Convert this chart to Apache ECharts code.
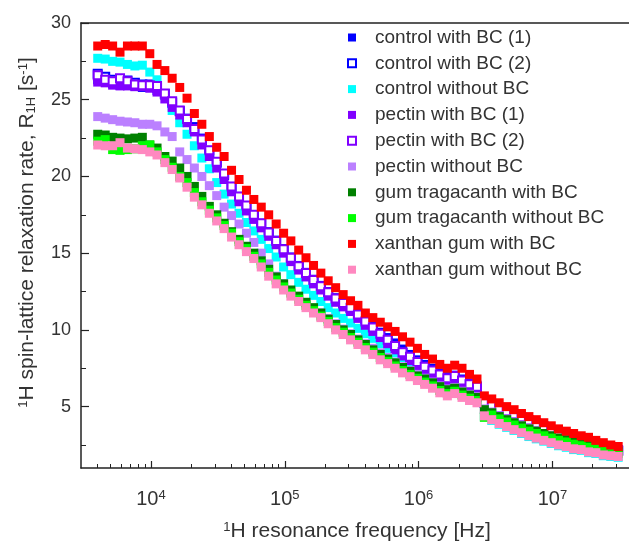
<!DOCTYPE html>
<html>
<head>
<meta charset="utf-8">
<script src="https://cdn.jsdelivr.net/npm/echarts@6/dist/echarts.min.js"></script>
<style>
  html, body { margin: 0; padding: 0; background: #fff; }
  #chart { width: 629px; height: 543px; }
</style>
</head>
<body>
<div id="chart"></div>
<script>
// resonance frequencies [Hz]
const freq = [4000, 4550, 5170, 5870, 6670, 7580, 8620, 9800,
  11100, 12700, 14400, 16400, 18600, 21100, 24000, 27300, 31000, 35200, 40000,
  45500, 51700, 58700, 66700, 75800, 86200, 98000,
  111000, 127000, 144000, 164000, 186000, 211000, 240000, 273000, 310000, 352000, 400000,
  455000, 517000, 587000, 667000, 758000, 862000, 980000,
  1110000, 1270000, 1440000, 1640000, 1860000, 2110000, 2400000, 2730000, 3100000, 3520000, 4000000,
  4550000, 5170000, 5870000, 6670000, 7580000, 8620000, 9800000,
  11100000, 12700000, 14400000, 16400000, 18600000, 21100000, 24000000, 27300000, 31000000];

// R1H [1/s]
const controlBC1 = [26.3, 26.2, 26.05, 25.95, 25.95, 25.9, 25.8, 25.8,
  25.6, 25.3, 24.8, 24.3, 23.8, 23.25, 22.5, 21.7, 20.95, 20.15, 19.35,
  18.7, 18.1, 17.5, 16.95, 16.4, 15.85, 15.3,
  14.75, 14.2, 13.75, 13.3, 12.9, 12.5, 12.1, 11.8, 11.5, 11.1, 10.65,
  10.25, 9.85, 9.5, 9.15, 8.75, 8.4, 8.05,
  7.75, 7.5, 7.2, 6.95, 7.05, 6.8, 6.55, 6.4, 5.35, 5.15, 4.95,
  4.75, 4.55, 4.35, 4.15, 3.95, 3.75, 3.5,
  3.3, 3.15, 3.0, 2.85, 2.7, 2.55, 2.4, 2.3, 2.2];
const controlBC2 = [26.7, 26.5, 26.3, 26.3, 26.25, 26.1, 26.0, 26.0,
  25.8, 25.35, 24.8, 24.25, 23.7, 23.0, 22.35, 21.6, 20.9, 20.1, 19.3,
  18.65, 18.05, 17.45, 16.9, 16.3, 15.75, 15.2,
  14.65, 14.1, 13.65, 13.2, 12.8, 12.4, 12.0, 11.7, 11.4, 10.95, 10.5,
  10.1, 9.7, 9.3, 8.9, 8.5, 8.2, 7.85,
  7.55, 7.3, 7.05, 6.8, 6.95, 6.65, 6.4, 6.25, 5.25, 5.05, 4.85,
  4.65, 4.45, 4.25, 4.05, 3.85, 3.65, 3.4,
  3.2, 3.05, 2.9, 2.75, 2.6, 2.45, 2.35, 2.2, 2.1];
const controlNoBC = [27.7, 27.65, 27.5, 27.45, 27.3, 27.2, 27.25, 26.8,
  26.3, 25.3, 24.3, 23.5, 22.75, 22.0, 21.2, 20.5, 19.6, 18.85, 18.2,
  17.6, 17.0, 16.45, 15.9, 15.3, 14.75, 14.1,
  13.6, 13.1, 12.65, 12.25, 11.85, 11.45, 11.1, 10.75, 10.45, 10.1, 9.75,
  9.45, 9.1, 8.8, 8.5, 8.2, 7.9, 7.6,
  7.35, 7.1, 6.8, 6.55, 6.6, 6.35, 6.1, 5.95, 4.35, 4.1, 3.85,
  3.65, 3.45, 3.25, 3.05, 2.9, 2.75, 2.6,
  2.45, 2.35, 2.2, 2.15, 2.0, 1.95, 1.8, 1.75, 1.7];
const pectinBC1 = [26.15, 26.1, 25.95, 25.9, 25.9, 25.85, 25.85, 25.75,
  25.5, 25.05, 24.5, 24.0, 23.5, 22.9, 22.05, 21.3, 20.55, 19.8, 19.0,
  18.35, 17.75, 17.2, 16.65, 16.1, 15.55, 15.0,
  14.45, 13.9, 13.45, 13.0, 12.6, 12.2, 11.8, 11.5, 11.2, 10.75, 10.3,
  9.9, 9.5, 9.1, 8.7, 8.3, 8.0, 7.65,
  7.4, 7.15, 6.9, 6.6, 6.75, 6.4, 6.2, 6.05, 5.2, 5.05, 4.85,
  4.6, 4.4, 4.2, 4.0, 3.8, 3.6, 3.35,
  3.15, 3.0, 2.85, 2.7, 2.55, 2.45, 2.35, 2.2, 2.1];
const pectinBC2 = [26.6, 26.3, 26.2, 26.4, 26.2, 26.0, 25.95, 25.95,
  25.9, 25.4, 24.9, 24.3, 23.75, 23.1, 22.4, 21.7, 20.95, 20.2, 19.35,
  18.7, 18.1, 17.5, 16.95, 16.35, 15.8, 15.25,
  14.7, 14.15, 13.7, 13.25, 12.85, 12.45, 12.05, 11.75, 11.45, 11.0, 10.55,
  10.15, 9.75, 9.35, 8.95, 8.55, 8.25, 7.9,
  7.6, 7.35, 7.1, 6.85, 7.0, 6.7, 6.45, 6.3, 5.3, 5.1, 4.9,
  4.7, 4.5, 4.3, 4.1, 3.9, 3.7, 3.45,
  3.25, 3.1, 2.95, 2.8, 2.65, 2.5, 2.4, 2.25, 2.15];
const pectinNoBC = [23.9, 23.8, 23.7, 23.6, 23.55, 23.5, 23.4, 23.4,
  23.3, 22.9, 22.6, 21.6, 21.1, 20.55, 20.0, 19.4, 18.75, 18.0, 17.45,
  16.9, 16.3, 15.7, 15.0, 14.3, 13.5, 13.0,
  12.55, 12.15, 11.75, 11.4, 11.1, 10.75, 10.4, 10.05, 9.75, 9.4, 9.1,
  8.8, 8.5, 8.2, 7.9, 7.6, 7.35, 7.1,
  6.85, 6.6, 6.35, 6.15, 6.25, 6.0, 5.8, 5.65, 4.85, 4.65, 4.4,
  4.2, 4.0, 3.8, 3.6, 3.45, 3.25, 3.1,
  2.95, 2.8, 2.7, 2.6, 2.5, 2.4, 2.3, 2.2, 2.1];
const gumBC = [22.75, 22.7, 22.55, 22.5, 22.45, 22.5, 22.55, 22.05,
  21.85, 21.3, 21.0, 20.55, 20.0, 19.35, 18.7, 18.05, 17.5, 16.95, 16.4,
  15.9, 15.45, 15.0, 14.5, 13.95, 13.45, 13.0,
  12.6, 12.2, 11.8, 11.45, 11.1, 10.7, 10.35, 10.0, 9.7, 9.35, 9.05,
  8.7, 8.4, 8.1, 7.85, 7.55, 7.3, 7.0,
  6.8, 6.55, 6.3, 6.1, 6.2, 5.95, 5.75, 5.6, 4.8, 4.6, 4.35,
  4.15, 3.95, 3.75, 3.55, 3.4, 3.25, 3.1,
  2.95, 2.85, 2.7, 2.6, 2.5, 2.4, 2.3, 2.2, 2.1];
const gumNoBC = [22.3, 22.4, 21.75, 21.7, 21.75, 21.8, 22.0, 22.05,
  21.6, 21.1, 20.6, 20.0, 19.6, 18.95, 18.35, 17.8, 17.3, 16.8, 16.3,
  15.75, 15.3, 14.8, 14.3, 13.75, 13.25, 12.8,
  12.4, 12.0, 11.6, 11.25, 10.9, 10.55, 10.15, 9.85, 9.5, 9.2, 8.85,
  8.55, 8.2, 7.95, 7.65, 7.35, 7.1, 6.85,
  6.6, 6.35, 6.05, 5.85, 6.0, 5.75, 5.55, 5.4, 4.3, 4.45, 4.2,
  4.0, 3.8, 3.6, 3.4, 3.25, 3.1, 2.95,
  2.8, 2.7, 2.55, 2.45, 2.35, 2.25, 2.15, 2.05, 1.95];
const xanthanBC = [28.5, 28.6, 28.5, 28.1, 28.5, 28.5, 28.5, 28.0,
  27.3, 26.9, 26.4, 25.8, 25.1, 24.1, 23.4, 22.6, 21.9, 21.3, 20.4,
  19.8, 19.1, 18.5, 18.0, 17.5, 16.9, 16.3,
  15.8, 15.2, 14.7, 14.2, 13.7, 13.2, 12.75, 12.3, 11.9, 11.6, 11.1,
  10.8, 10.5, 10.2, 9.9, 9.55, 9.2, 8.8,
  8.4, 8.1, 7.75, 7.5, 7.7, 7.5, 7.1, 6.8, 5.7, 5.5, 5.25,
  5.0, 4.8, 4.55, 4.35, 4.15, 3.95, 3.75,
  3.55, 3.4, 3.25, 3.1, 3.0, 2.8, 2.65, 2.5, 2.4];
const xanthanNoBC = [22.05, 22.0, 22.0, 22.2, 21.85, 21.8, 21.75, 21.6,
  21.4, 20.9, 20.45, 19.9, 19.3, 18.65, 18.15, 17.6, 17.1, 16.6, 16.05,
  15.55, 15.1, 14.65, 14.1, 13.5, 13.0, 12.6,
  12.2, 11.85, 11.45, 11.1, 10.8, 10.4, 10.0, 9.7, 9.35, 9.05, 8.7,
  8.4, 8.05, 7.8, 7.5, 7.2, 6.95, 6.7,
  6.45, 6.2, 5.9, 5.7, 5.85, 5.6, 5.4, 5.25, 4.4, 4.15, 3.9,
  3.7, 3.5, 3.3, 3.1, 2.95, 2.8, 2.65,
  2.5, 2.4, 2.25, 2.2, 2.05, 2.0, 1.85, 1.8, 1.75];

// tick positions
const xMajorTicks = [1e4, 1e5, 1e6, 1e7];
const xMinorTicks = [4e3, 5e3, 6e3, 7e3, 8e3, 9e3, 2e4, 3e4, 4e4, 5e4, 6e4, 7e4, 8e4, 9e4,
  2e5, 3e5, 4e5, 5e5, 6e5, 7e5, 8e5, 9e5, 2e6, 3e6, 4e6, 5e6, 6e6, 7e6, 8e6, 9e6, 2e7, 3e7];
const yMajorTicks = [5, 10, 15, 20, 25, 30];
const yMinorTicks = [2.5, 7.5, 12.5, 17.5, 22.5, 27.5];

const seriesDefs = [
  { name: 'control with BC (1)', data: controlBC1, color: '#0000ff', open: false },
  { name: 'control with BC (2)', data: controlBC2, color: '#0000ff', open: true },
  { name: 'control without BC', data: controlNoBC, color: '#00ffff', open: false },
  { name: 'pectin with BC (1)', data: pectinBC1, color: '#8000ff', open: false },
  { name: 'pectin with BC (2)', data: pectinBC2, color: '#8000ff', open: true },
  { name: 'pectin without BC', data: pectinNoBC, color: '#bb80ff', open: false },
  { name: 'gum tragacanth with BC', data: gumBC, color: '#008000', open: false },
  { name: 'gum tragacanth without BC', data: gumNoBC, color: '#00ff00', open: false },
  { name: 'xanthan gum with BC', data: xanthanBC, color: '#ff0000', open: false },
  { name: 'xanthan gum without BC', data: xanthanNoBC, color: '#ff88c0', open: false }
];

const font = '"Liberation Sans", Arial, sans-serif';
const textColor = '#333';
const lineColor = '#222';

let chart = echarts.init(document.getElementById('chart'));

let series = seriesDefs.map(s => ({
  name: s.name,
  type: 'scatter',
  symbol: 'rect',
  symbolSize: s.open ? 8 : 9,
  data: freq.map((f, i) => [f, s.data[i]]),
  itemStyle: s.open
    ? { color: '#fff', borderColor: s.color, borderWidth: 2, opacity: 1 }
    : { color: s.color, opacity: 1 },
  emphasis: { disabled: true }
}));

let logAxis = {
  type: 'log',
  logBase: 10,
  min: 3000,
  max: 40000000,
  splitLine: { show: false },
  minorTick: { show: false }
};

let supStyle = { fontSize: 13, verticalAlign: 'top', lineHeight: 13, color: textColor, fontFamily: font };

chart.setOption({
  animation: false,
  backgroundColor: '#fff',
  textStyle: { fontFamily: font },
  grid: { left: 81, right: -4, top: 23, bottom: 75, outerBoundsMode: 'none' },
  legend: {
    orient: 'vertical',
    left: 342,
    top: 23,
    itemWidth: 8,
    itemHeight: 8,
    itemGap: 6.8,
    icon: 'rect',
    textStyle: { fontSize: 19, color: textColor, fontFamily: font, lineHeight: 18, padding: [0, 0, 0, 14] },
    data: seriesDefs.map(s => s.name)
  },
  xAxis: [
    Object.assign({}, logAxis, {
      position: 'bottom',
      name: '{sup|1}H resonance frequency [Hz]',
      nameLocation: 'middle',
      nameGap: 53,
      nameTextStyle: { fontSize: 21, color: textColor, fontFamily: font, rich: { sup: supStyle } },
      axisLine: { show: true, lineStyle: { color: lineColor, width: 1.5 } },
      axisTick: { show: true, inside: true, length: 4, customValues: xMinorTicks, lineStyle: { color: lineColor, width: 1 } },
      axisLabel: {
        show: true,
        customValues: xMajorTicks,
        margin: 21,
        color: textColor,
        fontSize: 20,
        fontFamily: font,
        formatter: v => '10{sup|' + Math.round(Math.log10(v)) + '}',
        rich: { sup: supStyle }
      }
    }),
    Object.assign({}, logAxis, {
      position: 'bottom',
      axisLine: { show: false },
      axisTick: { show: true, inside: true, length: 7, customValues: xMajorTicks, lineStyle: { color: lineColor, width: 1.2 } },
      axisLabel: { show: false }
    }),
    Object.assign({}, logAxis, {
      position: 'top',
      axisLine: { show: true, lineStyle: { color: lineColor, width: 1.5 } },
      axisTick: { show: false },
      axisLabel: { show: false }
    })
  ],
  yAxis: [
    {
      type: 'value',
      min: 1,
      max: 30,
      position: 'left',
      splitLine: { show: false },
      name: '{sup|1}H spin-lattice relaxation rate, R{sub|1H} [s{sup|-1}]',
      nameLocation: 'middle',
      nameGap: 43,
      nameRotate: 90,
      nameTextStyle: {
        fontSize: 21, color: textColor, fontFamily: font, padding: [0, 0, 0, 26],
        rich: {
          sup: supStyle,
          sub: { fontSize: 13, verticalAlign: 'bottom', lineHeight: 13, color: textColor, fontFamily: font }
        }
      },
      axisLine: { show: true, lineStyle: { color: lineColor, width: 1.5 } },
      axisTick: { show: true, inside: true, length: 8, customValues: yMajorTicks, lineStyle: { color: lineColor, width: 1.2 } },
      axisLabel: { show: true, customValues: yMajorTicks, margin: 10, color: textColor, fontSize: 18, fontFamily: font }
    },
    {
      type: 'value',
      min: 1,
      max: 30,
      position: 'left',
      splitLine: { show: false },
      axisLine: { show: false },
      axisTick: { show: true, inside: true, length: 5, customValues: yMinorTicks, lineStyle: { color: lineColor, width: 1 } },
      axisLabel: { show: false }
    }
  ],
  series: series
});
</script>
</body>
</html>
